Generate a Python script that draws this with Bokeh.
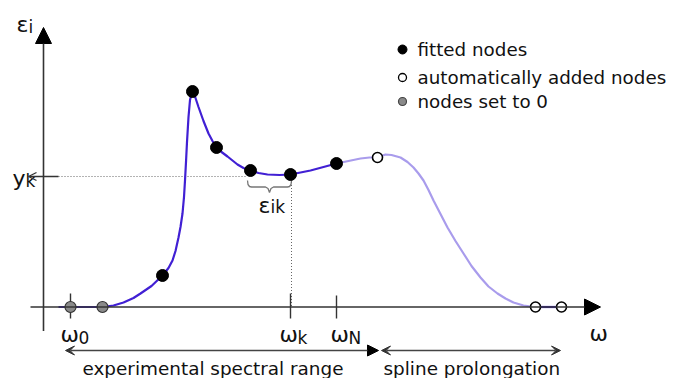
from bokeh.plotting import figure
from bokeh.models import Range1d, Arrow, NormalHead, VeeHead, OpenHead
from bokeh.core.properties import value
from bokeh.embed import file_html
from bokeh.resources import INLINE

FONT = value("DejaVu Sans")

# ---- data (schematic units: omega along x, epsilon along y) ----
fitted_x = [119, 149, 173, 207, 247, 293]
fitted_y = [31.5, 215.5, 159.5, 136.5, 132.5, 143.5]
added_x = [334, 492, 518]
added_y = [149.5, 0, 0]
zero_x = [27, 59]
zero_y = [0, 0]

fit_curve_x = [15, 27, 59, 70, 80, 90, 97, 108, 119, 125, 129, 132, 135, 137, 139, 140.5, 141.5,
               142.5, 143.5, 145, 146.5, 148, 149, 151, 155, 160, 165, 169, 173, 178, 184, 194,
               200, 207, 215, 224, 236, 247, 257, 267, 280, 293]
fit_curve_y = [0, 0, 0, 1.5, 4.5, 9, 13.5, 21, 31.5, 39, 46.5, 56, 69.5, 80, 93.5, 110, 126.5,
               145, 165, 190, 207, 213, 215.5, 212, 200, 186, 173.5, 166, 159.5, 155, 150.5, 142.5,
               139, 136.5, 134, 132.5, 132, 132.5, 134.5, 136.5, 140, 143.5]
prol_curve_x = [293, 305, 317, 326, 334, 338, 342, 348, 357, 364, 370, 375, 380, 385, 390, 397,
                404, 412, 420, 428, 437, 445, 454, 462, 470, 480, 491]
prol_curve_y = [143.5, 146, 148.5, 149.5, 149.5, 151, 152.5, 152, 149.5, 145, 139.5, 133.5, 126.5,
                117, 106.5, 93, 79.5, 66, 53.5, 41, 29.5, 20.5, 13.5, 8.5, 4.5, 1.5, 0]
tail_curve_x = [492, 518]
tail_curve_y = [0, 0]

omega_0 = 27
omega_k = 247
omega_N = 293
y_k = 130.5

legend_labels = ["fitted nodes", "automatically added nodes", "nodes set to 0"]
range_labels = ["experimental spectral range", "spline prolongation"]

DARK = "#4120d4"
LIGHT = "#a99cec"
AXIS = "#333333"
DOT = "#666666"

p = figure(width=678, height=378, x_range=Range1d(-43, 635), y_range=Range1d(-71.5, 306.5),
           output_backend="svg", toolbar_location=None, min_border=0,
           x_axis_type=None, y_axis_type=None)
p.grid.visible = False
p.outline_line_color = None
p.background_fill_color = "white"
p.border_fill_color = "white"

# axes
p.add_layout(Arrow(end=NormalHead(size=16, fill_color="black", line_color="black"),
                   x_start=0, y_start=-24, x_end=0, y_end=279.5,
                   line_color=AXIS, line_width=1.6))
p.add_layout(Arrow(end=NormalHead(size=16, fill_color="black", line_color="black"),
                   x_start=-13, y_start=0, x_end=557, y_end=0,
                   line_color=AXIS, line_width=1.6))

# guide lines
p.line([0, 204], [y_k, y_k], line_color=DOT, line_width=1, line_dash="1 2")
p.line([omega_k + 1, omega_k + 1], [128, 0], line_color=DOT, line_width=1, line_dash="1 2")
p.add_layout(Arrow(end=OpenHead(size=8, line_color=AXIS, line_width=1.3),
                   x_start=15, y_start=y_k, x_end=-15, y_end=y_k,
                   line_color=AXIS, line_width=1.3))

# ticks
p.segment(x0=[omega_0, omega_k, omega_N], y0=[13.5, 13.5, 11.5],
          x1=[omega_0, omega_k, omega_N], y1=[-11.5, -11.5, -11.5],
          line_color=AXIS, line_width=1.4)

# curve
p.line(prol_curve_x, prol_curve_y, line_color=LIGHT, line_width=2.2)
p.line(fit_curve_x, fit_curve_y, line_color=DARK, line_width=2.2)
p.line(tail_curve_x, tail_curve_y, line_color=DARK, line_width=2.2)

# brace under epsilon_ik
brace_x = [204, 204.5, 206, 208, 222, 224.5, 226, 227.5, 230, 244, 246, 247.5, 248]
brace_y = [126.5, 122.5, 120.5, 120, 120, 118.5, 114.5, 118.5, 120, 120, 120.5, 122.5, 126.5]
p.line(brace_x, brace_y, line_color="#777777", line_width=1.3)

# nodes
p.scatter(zero_x, zero_y, size=11, fill_color="#8a8a8a", line_color="#333333", line_width=1.2)
p.scatter(fitted_x, fitted_y, size=12, fill_color="black", line_color="black")
p.scatter(added_x, added_y, size=10, fill_color="white", line_color="black", line_width=1.6)

# legend
leg_x = 359
leg_y = [257.5, 229.5, 205.5]
p.scatter([leg_x], [leg_y[0]], size=9, fill_color="black", line_color="black")
p.scatter([leg_x], [leg_y[1]], size=8, fill_color="white", line_color="black", line_width=1.3)
p.scatter([leg_x], [leg_y[2]], size=8, fill_color="#8a8a8a", line_color="#444444", line_width=1.2)
p.text(x=[374] * 3, y=leg_y, text=legend_labels, text_font=FONT, text_font_size="18.3px",
       text_baseline="middle", text_align="left", text_color="#111111")

# axis/label texts (main + subscript)
def label(x, y, main, sub, size="22px", subsize="17px", dx=17, dy=-3):
    p.text(x=[x], y=[y], text=[main], text_font=FONT, text_font_size=size,
           text_baseline="alphabetic", text_align="left", text_color="#111111")
    if sub:
        p.text(x=[x + dx], y=[y + dy], text=[sub], text_font=FONT, text_font_size=subsize,
               text_baseline="alphabetic", text_align="left", text_color="#111111")

label(-27, 282.5, "ε", "i", dx=12, dy=-2)
label(-31, 128.5, "y", "k", dx=13, dy=-2)
label(17, -27.5, "ω", "0", dx=18, dy=-3)
label(236, -27.5, "ω", "k", dx=18, dy=-3)
label(287, -27.5, "ω", "N", dx=18, dy=-3)
label(546, -26.5, "ω", "")
label(215, 101.5, "ε", "ik", dx=12, dy=-1)

# range arrows
p.add_layout(Arrow(start=VeeHead(size=9, fill_color=AXIS, line_color=AXIS, line_width=1),
                   end=NormalHead(size=11, fill_color="black", line_color="black"),
                   x_start=22, y_start=-43.5, x_end=335, y_end=-43.5,
                   line_color="#444444", line_width=1.3))
p.add_layout(Arrow(start=VeeHead(size=9, fill_color=AXIS, line_color=AXIS, line_width=1),
                   end=VeeHead(size=9, fill_color=AXIS, line_color=AXIS, line_width=1),
                   x_start=338, y_start=-43.5, x_end=517, y_end=-43.5,
                   line_color="#444444", line_width=1.3))
p.text(x=[39, 340], y=[-61.5, -61.5], text=range_labels, text_font=FONT, text_font_size="18.4px",
       text_baseline="alphabetic", text_align="left", text_color="#111111")

open("out.html", "w").write(file_html(p, INLINE))
